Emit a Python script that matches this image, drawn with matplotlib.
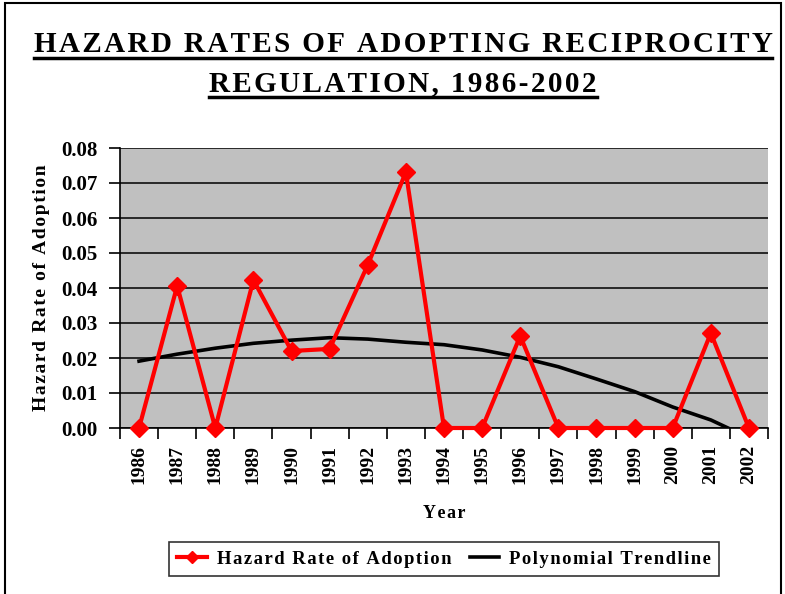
import matplotlib
matplotlib.use("Agg")
import matplotlib.pyplot as plt
from matplotlib.lines import Line2D
from matplotlib.patches import Rectangle

years = ["1986", "1987", "1988", "1989", "1990", "1991", "1992", "1993", "1994",
         "1995", "1996", "1997", "1998", "1999", "2000", "2001", "2002"]
hazard = [0.0, 0.0406, 0.0, 0.0423, 0.0220, 0.0226, 0.0466, 0.0731, 0.0,
          0.0, 0.0263, 0.0, 0.0, 0.0, 0.0, 0.0271, 0.0]
# polynomial trendline (ends where it reaches zero)
trend_x = [0, 1, 2, 3, 4, 5, 6, 7, 8, 9, 10, 11, 12, 13, 14, 15, 15.45]
trend_y = [0.0191, 0.0211, 0.0228, 0.0242, 0.0251, 0.0258, 0.0254, 0.0245, 0.0238,
           0.0223, 0.0202, 0.0175, 0.0140, 0.0104, 0.0060, 0.0023, 0.0]
yticks = [0.00, 0.01, 0.02, 0.03, 0.04, 0.05, 0.06, 0.07, 0.08]

FAM = ["Liberation Serif", "DejaVu Serif"]
plt.rcParams["font.family"] = FAM
plt.rcParams["font.weight"] = "bold"

def spaced(s, sp="\u200a"):
    return sp.join(list(s))

W, H = 785, 594
fig = plt.figure(figsize=(W / 100, H / 100), dpi=100)
fig.patch.set_facecolor("white")

# outer frame
fig.add_artist(Rectangle((5 / W, -0.01), (781 - 5) / W, (H - 3) / H + 0.01,
                         transform=fig.transFigure, fill=False, edgecolor="black", lw=1.5))

ax = fig.add_axes([120 / W, (H - 428) / H, 648 / W, 280 / H])
ax.set_facecolor("#C0C0C0")
x = list(range(len(years)))
ax.set_xlim(-0.5, len(years) - 0.5)
ax.set_ylim(0, 0.08)
for yv in yticks:
    ax.axhline(yv, color="black", lw=1.1, zorder=1)

ax.plot(trend_x, trend_y, color="black", lw=2.6, zorder=2, label=spaced("Polynomial Trendline"))
ax.plot(x, hazard, color="#FF0000", lw=3, marker="D", markersize=9, zorder=3,
        label=spaced("Hazard Rate of Adoption"), clip_on=False)

for s in ["top", "right"]:
    ax.spines[s].set_visible(False)
ax.spines["left"].set_color("black")
ax.spines["bottom"].set_color("black")
ax.spines["left"].set_linewidth(1.2)
ax.spines["bottom"].set_linewidth(1.2)

ax.set_yticks(yticks)
ax.set_yticklabels([f"{v:.2f}" for v in yticks], fontsize=15, fontweight="bold")
ax.set_xticks([i + 0.5 for i in range(-1, len(years))])
ax.set_xticklabels([])
ax.set_xticks(x, minor=True)
ax.set_xticklabels(years, minor=True, rotation=90, fontsize=14,
                   fontweight="bold", va="top")
ax.tick_params(axis="x", which="major", length=8, width=1.2, direction="out")
ax.tick_params(axis="x", which="minor", length=0, pad=12)
ax.tick_params(axis="y", length=8, width=1.2, direction="out", pad=8)

ax.set_ylabel(spaced("Hazard Rate of Adoption"), fontsize=14, fontweight="bold", labelpad=8)
ax.set_xlabel(spaced("Year"), fontsize=13, fontweight="bold", labelpad=15)

h, l = ax.get_legend_handles_labels()
leg = fig.legend([h[1], h[0]], [l[1], l[0]], loc="center", bbox_to_anchor=(444 / W, (H - 559) / H),
                 ncol=2, frameon=True, fancybox=False, edgecolor="black",
                 prop={"weight": "bold", "size": 13.4}, handlelength=1.6, columnspacing=1.0,
                 handletextpad=0.5, borderpad=0.45, markerscale=0.7)
leg.get_frame().set_linewidth(1.2)

t1 = fig.text(403 / W, (H - 45) / H, spaced("HAZARD RATES OF ADOPTING RECIPROCITY", "\u200a"),
              ha="center", va="center", fontsize=21, fontweight="bold")
t2 = fig.text(403 / W, (H - 84) / H, spaced("REGULATION, 1986-2002", "\u200a"),
              ha="center", va="center", fontsize=21, fontweight="bold")

fig.canvas.draw()
r = fig.canvas.get_renderer()
for t, uy in [(t1, 58), (t2, 97)]:
    bb = t.get_window_extent(r)
    fig.add_artist(Line2D([bb.x0 / W, bb.x1 / W], [(H - uy) / H] * 2,
                          transform=fig.transFigure, color="black", lw=2.5))

fig.savefig("out.png", dpi=100)
